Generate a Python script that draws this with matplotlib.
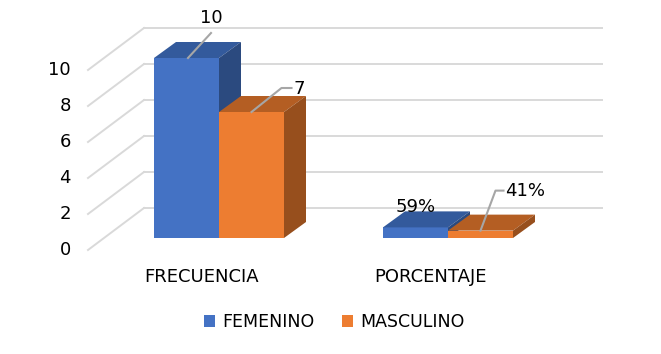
import matplotlib
matplotlib.use("Agg")
from matplotlib import pyplot as plt
from matplotlib.patches import Polygon, Patch

categories = ["FRECUENCIA", "PORCENTAJE"]
series_names = ["FEMENINO", "MASCULINO"]
femenino = [10, 0.59]
masculino = [7, 0.41]
value_labels = [["10", "59%"], ["7", "41%"]]
yticks = [0, 2, 4, 6, 8, 10]

front_colors = ["#4472C4", "#ED7D31"]
top_colors = ["#335A9C", "#B45E23"]
side_colors = ["#2B4A7F", "#974F1D"]
grid_color = "#D9D9D9"

# pixel scale of the data axes (x: per category, y: per unit)
PX_X = 229.0
PX_Y = 18.0
W, H = 661, 354
X0_PX, Y0_PX = 219, 238


def ox(px):
    return px / PX_X


def oy(px):
    return px / PX_Y


fig = plt.figure(figsize=(W / 100, H / 100), dpi=100)
ax = fig.add_axes([0, 0, 1, 1])
ax.set_xlim(-X0_PX / PX_X, (W - X0_PX) / PX_X)
ax.set_ylim(-(H - Y0_PX) / PX_Y, Y0_PX / PX_Y)
ax.axis("off")

font = dict(family="DejaVu Sans", fontsize=13, color="#000000")

# walls / gridlines
wall_left_front = ox(88 - X0_PX)
wall_left_back = ox(144 - X0_PX)
wall_right = ox(602 - X0_PX)
front_dy = oy(-12)
back_dy = oy(30)
for v in yticks:
    ax.plot([wall_left_back, wall_right], [v + back_dy, v + back_dy], color=grid_color, lw=1.4, zorder=1)
    ax.plot([wall_left_front, wall_left_back], [v + front_dy, v + back_dy], color=grid_color, lw=1.4, zorder=1)
    ax.text(ox(71 - X0_PX), v + front_dy, str(v), ha="right", va="center", **font)

# bars with fake depth
bar_w = ox(65)
ddx, ddy = ox(22), oy(16)
series = [femenino, masculino]
for s, vals in enumerate(series):
    for i, v in enumerate(vals):
        left = i - bar_w + s * bar_w
        right = left + bar_w
        ax.bar(left, v, width=bar_w, align="edge", color=front_colors[s], zorder=3 + s)
        top = Polygon([(left, v), (right, v), (right + ddx, v + ddy), (left + ddx, v + ddy)],
                      closed=True, facecolor=top_colors[s], edgecolor="none", zorder=3 + s)
        side = Polygon([(right, 0), (right + ddx, ddy), (right + ddx, v + ddy), (right, v)],
                       closed=True, facecolor=side_colors[s], edgecolor="none", zorder=3 + s)
        ax.add_patch(top)
        ax.add_patch(side)

# data labels with leader lines
lead = "#A6A6A6"
# FEMENINO FRECUENCIA
c = 0 - bar_w / 2
ax.plot([c + ox(1.5), c + ox(24.5)], [femenino[0], femenino[0] + oy(25)], color=lead, lw=1.5, zorder=6)
ax.text(c + ox(24.5), femenino[0] + oy(40), value_labels[0][0], ha="center", va="center", **font)
# MASCULINO FRECUENCIA
c = 0 + bar_w / 2
ax.plot([c + ox(0), c + ox(30), c + ox(40)],
        [masculino[0], masculino[0] + oy(24), masculino[0] + oy(24)], color=lead, lw=1.5, zorder=6)
ax.text(c + ox(42), masculino[0] + oy(23), value_labels[1][0], ha="left", va="center", **font)
# FEMENINO PORCENTAJE
c = 1 - bar_w / 2
ax.text(c, femenino[1] + oy(20), value_labels[0][1], ha="center", va="center", zorder=7, **font)
# MASCULINO PORCENTAJE
c = 1 + bar_w / 2
ax.plot([c + ox(0), c + ox(15), c + ox(23)],
        [masculino[1], masculino[1] + oy(40), masculino[1] + oy(40)], color=lead, lw=1.5, zorder=6)
ax.text(c + ox(25), masculino[1] + oy(40), value_labels[1][1], ha="left", va="center", **font)

# category labels
for i, cat in enumerate(categories):
    ax.text(i - ox(17), oy(-39), cat, ha="center", va="center", **font)

handles = [Patch(facecolor=front_colors[k], edgecolor="none", label=series_names[k]) for k in range(2)]
fig.legend(handles=handles, loc="center", bbox_to_anchor=(334 / W, 1 - 322 / H), ncol=2, frameon=False,
           prop=dict(family="DejaVu Sans", size=12.5), handlelength=0.65, handleheight=0.65,
           handletextpad=0.4, columnspacing=1.6)

fig.savefig("out.png", dpi=100)
